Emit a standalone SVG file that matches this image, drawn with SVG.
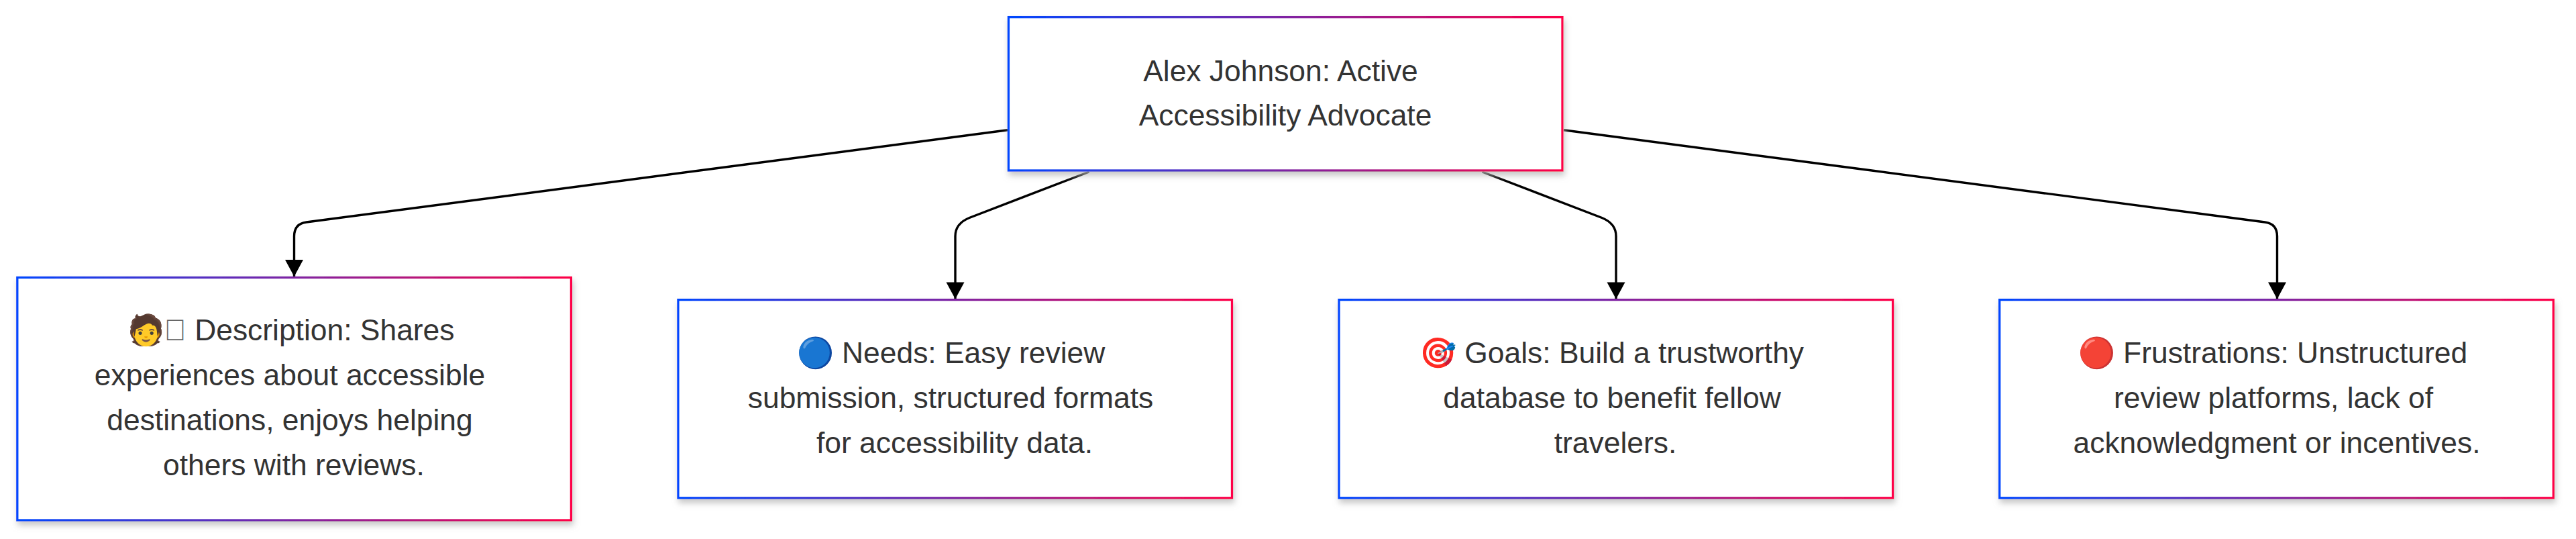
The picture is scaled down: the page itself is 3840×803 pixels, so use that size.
<svg xmlns="http://www.w3.org/2000/svg" width="3840" height="803" viewBox="0 0 3840 803">
<style>
.box{fill:#fff;stroke-width:3.3;filter:url(#sh)}
.lbl{font-family:"Liberation Sans",Arial,sans-serif;font-size:44.4px;fill:#333;text-anchor:middle}
.edge{fill:none;stroke:#000;stroke-width:3.4;marker-end:url(#arrow)}
</style>
<defs>
<linearGradient id="g0" gradientUnits="userSpaceOnUse" x1="1503" y1="0" x2="2330" y2="0"><stop offset="0" stop-color="#0047ff"/><stop offset="1" stop-color="#ff0047"/></linearGradient>
<linearGradient id="g1" gradientUnits="userSpaceOnUse" x1="25" y1="0" x2="852" y2="0"><stop offset="0" stop-color="#0047ff"/><stop offset="1" stop-color="#ff0047"/></linearGradient>
<linearGradient id="g2" gradientUnits="userSpaceOnUse" x1="1010" y1="0" x2="1837" y2="0"><stop offset="0" stop-color="#0047ff"/><stop offset="1" stop-color="#ff0047"/></linearGradient>
<linearGradient id="g3" gradientUnits="userSpaceOnUse" x1="1995" y1="0" x2="2822" y2="0"><stop offset="0" stop-color="#0047ff"/><stop offset="1" stop-color="#ff0047"/></linearGradient>
<linearGradient id="g4" gradientUnits="userSpaceOnUse" x1="2980" y1="0" x2="3807" y2="0"><stop offset="0" stop-color="#0047ff"/><stop offset="1" stop-color="#ff0047"/></linearGradient>
<filter id="sh" x="-5%" y="-10%" width="110%" height="125%"><feDropShadow dx="2" dy="6" stdDeviation="5" flood-color="#b9b9b9" flood-opacity="0.8"/></filter>
<marker id="arrow" markerUnits="userSpaceOnUse" markerWidth="28" markerHeight="28" refX="26" refY="14" orient="auto"><path d="M1 0.5 L26 14 L1 27.5 Z" fill="#000"/></marker>
</defs>
<g id="connectors">
<path class="edge" d="M1502 193.8 L456.7 331 Q438.5 333.4 438.5 352 L438.5 412"/>
<path class="edge" d="M1623.5 256 L1445 324.5 Q1424 333 1424 352 L1424 445.5"/>
<path class="edge" d="M2209.5 256 L2388 324.5 Q2409 333 2409 352 L2409 445.5"/>
<path class="edge" d="M2331 193.8 L3376.3 331 Q3394.5 333.4 3394.5 352 L3394.5 445.5"/>
</g>
<g id="root"><rect class="box" x="1503.4" y="25.6" width="825.6" height="228.4" stroke="url(#g0)"/>
<text class="lbl" x="1909" y="121">Alex Johnson: Active</text><text class="lbl" x="1916" y="187">Accessibility Advocate</text></g>
<g id="description"><rect class="box" x="25.8" y="413.4" width="825.6" height="361.6" stroke="url(#g1)"/>
<text class="lbl" x="433.5" y="507">🧑<tspan fill="#666">&#xE000;</tspan> Description: Shares</text><text class="lbl" x="432" y="574">experiences about accessible</text><text class="lbl" x="432" y="641">destinations, enjoys helping</text><text class="lbl" x="438" y="708">others with reviews.</text></g>
<g id="needs"><rect class="box" x="1010.9" y="446.6" width="825.6" height="295.2" stroke="url(#g2)"/>
<text class="lbl" x="1417.5" y="541">🔵 Needs: Easy review</text><text class="lbl" x="1417" y="608">submission, structured formats</text><text class="lbl" x="1423" y="675">for accessibility data.</text></g>
<g id="goals"><rect class="box" x="1996" y="446.6" width="825.6" height="295.2" stroke="url(#g3)"/>
<text class="lbl" x="2402.5" y="541">🎯 Goals: Build a trustworthy</text><text class="lbl" x="2403" y="608">database to benefit fellow</text><text class="lbl" x="2408" y="675">travelers.</text></g>
<g id="frustrations"><rect class="box" x="2980.7" y="446.6" width="825.6" height="295.2" stroke="url(#g4)"/>
<text class="lbl" x="3388" y="541">🔴 Frustrations: Unstructured</text><text class="lbl" x="3389" y="608">review platforms, lack of</text><text class="lbl" x="3394" y="675">acknowledgment or incentives.</text></g>
</svg>
